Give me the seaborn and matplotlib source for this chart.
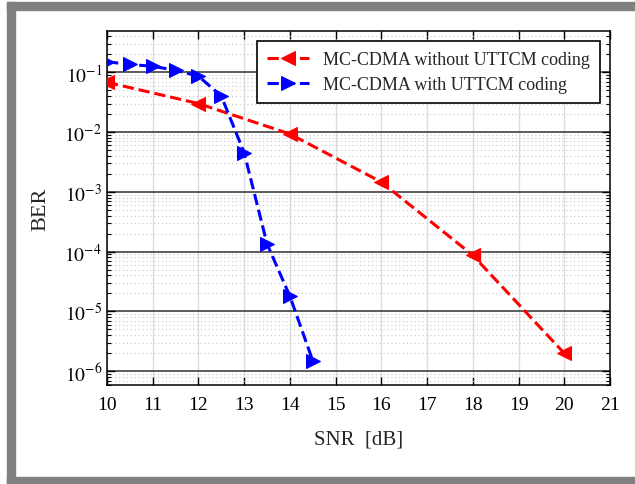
import matplotlib
matplotlib.use("Agg")
import matplotlib.pyplot as plt
from matplotlib.patches import Rectangle
from matplotlib.ticker import LogLocator, NullFormatter
import seaborn as sns
import numpy as np

# данные с графика
snr_uncoded = [10, 12, 14, 16, 18, 20]
ber_uncoded = [0.068, 0.030, 0.0093, 0.00146, 8.7e-5, 2.0e-6]
snr_coded = [10, 10.5, 11, 11.5, 12, 12.5, 13, 13.5, 14, 14.5]
ber_coded = [0.15, 0.135, 0.126, 0.108, 0.086, 0.040, 0.0045, 1.35e-4, 1.8e-5, 1.5e-6]
labels = ["MC-CDMA without UTTCM coding", "MC-CDMA with UTTCM coding"]
x_ticks = list(range(10, 22))

sns.set_style("white")
plt.rcParams['font.family'] = ['Liberation Serif', 'DejaVu Serif']
plt.rcParams['mathtext.fontset'] = 'stix'

fig = plt.figure(figsize=(6.35, 4.85), dpi=100)
ax = fig.add_axes([107/635, 1 - 386/485, (610 - 107)/635, (386 - 32)/485])

sns.lineplot(x=snr_uncoded, y=ber_uncoded, ax=ax, color='#ff0000', linestyle='--',
             linewidth=2.2, marker='<', markersize=10, markeredgecolor='#ff0000',
             label=labels[0], zorder=5)
sns.lineplot(x=snr_coded, y=ber_coded, ax=ax, color='#0000ff', linestyle='--',
             linewidth=2.2, marker='>', markersize=10, markeredgecolor='#0000ff',
             label=labels[1], zorder=5)

ax.set_yscale('log')
ax.set_xlim(10, 21)
ax.set_ylim(5.9e-7, 0.49)
ax.set_xticks(x_ticks)
ax.set_xticklabels([str(t) for t in x_ticks], fontsize=14)
ax.yaxis.set_major_locator(LogLocator(base=10, numticks=12))
ax.yaxis.set_minor_locator(LogLocator(base=10, subs=np.arange(2, 10), numticks=12))
ax.yaxis.set_minor_formatter(NullFormatter())
ax.set_yticks([1e-6, 1e-5, 1e-4, 1e-3, 1e-2, 1e-1])
ax.set_yticklabels([r'$10^{%d}$' % e for e in range(-6, 0)], fontsize=14)

# сетка
ax.grid(True, axis='x', which='major', color='#dcdcdc', linewidth=1, linestyle='-')
ax.grid(True, axis='y', which='major', color='#303030', linewidth=1.1, linestyle='-')
ax.grid(True, axis='y', which='minor', color='#c8c8c8', linewidth=0.8, linestyle=(0, (1, 2.5)))
ax.set_axisbelow(True)

ax.tick_params(axis='both', which='both', direction='in', top=True, right=True,
               bottom=True, left=True, colors='black', labelcolor='black')
ax.tick_params(which='major', length=6, width=1)
ax.tick_params(which='minor', length=3, width=0.8)
ax.tick_params(axis='x', pad=8)
for s in ax.spines.values():
    s.set_color('black')
    s.set_linewidth(1.1)

ax.set_xlabel('SNR  [dB]', fontsize=15, labelpad=12)
ax.set_ylabel('BER', fontsize=16, labelpad=10)

leg = ax.legend(loc='upper right', fontsize=13, frameon=True, fancybox=False,
                framealpha=1, edgecolor='black', handlelength=2.3,
                borderaxespad=0.55, labelspacing=0.45, borderpad=0.55)
leg.get_frame().set_linewidth(1.2)

# серая рамка вокруг рисунка
gray = '#808080'
fig.add_artist(Rectangle((7/635, 0), 8/635, 1 - 3/485, transform=fig.transFigure, color=gray, zorder=0))
fig.add_artist(Rectangle((7/635, 1 - 11/485), 1, 8/485, transform=fig.transFigure, color=gray, zorder=0))
fig.add_artist(Rectangle((7/635, 0), 1, 7/485, transform=fig.transFigure, color=gray, zorder=0))

fig.savefig('out.png', dpi=100)
